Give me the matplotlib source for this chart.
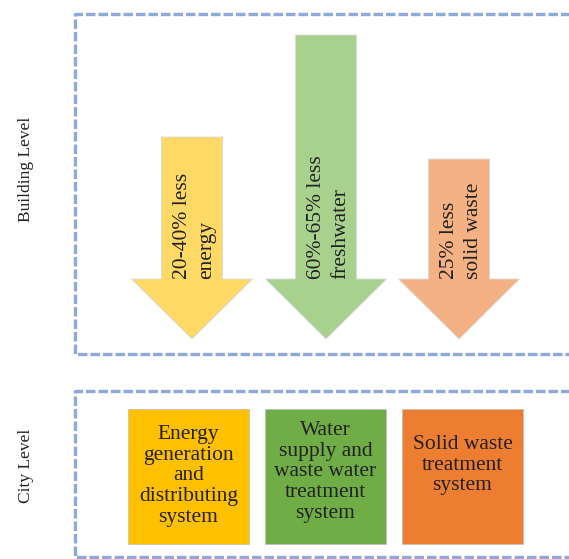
import matplotlib
matplotlib.use('Agg')
import matplotlib.pyplot as plt
from matplotlib.patches import Polygon, Rectangle

# building-level arrows
arrow_labels = ["20-40% less\nenergy", "60%-65% less\nfreshwater", "25% less\nsolid waste"]
arrow_colors = ["#FFD966", "#A9D18E", "#F4B183"]
arrow_centers = [192, 326, 459]
arrow_tops = [137, 35, 159]

# city-level boxes
box_labels = ["Energy\ngeneration\nand\ndistributing\nsystem",
              "Water\nsupply and\nwaste water\ntreatment\nsystem",
              "Solid waste\ntreatment\nsystem"]
box_colors = ["#FFC000", "#70AD47", "#ED7D31"]
box_lefts = [128, 265, 402]
box_text_y = [476, 472, 465]

serif = ['Liberation Serif', 'DejaVu Serif']
dash_color = '#8EA9DB'

fig = plt.figure(figsize=(5.69, 5.59), dpi=100, facecolor='white')
ax = fig.add_axes([0, 0, 1, 1])
ax.set_xlim(0, 569)
ax.set_ylim(559, 0)
ax.axis('off')

# dashed frames (open to the right edge)
for top, bottom in [(14, 354), (391, 557)]:
    ax.plot([580, 75, 75, 580], [top, top, bottom, bottom], color=dash_color,
            linewidth=2.4, linestyle=(0, (2.85, 0.9)), solid_capstyle='butt')

# side labels
ax.text(26, 169, "Building Level", rotation=90, ha='center', va='center',
        fontsize=12.5, family=serif, color='#222222')
ax.text(26, 466, "City Level", rotation=90, ha='center', va='center',
        fontsize=12.5, family=serif, color='#222222')

# arrows
shaft_half = 30.5
head_half = 60.5
head_y = 279
tip_y = 339
for label, color, cx, top in zip(arrow_labels, arrow_colors, arrow_centers, arrow_tops):
    pts = [(cx - shaft_half, top), (cx + shaft_half, top), (cx + shaft_half, head_y),
           (cx + head_half, head_y), (cx, tip_y), (cx - head_half, head_y),
           (cx - shaft_half, head_y)]
    ax.add_patch(Polygon(pts, closed=True, facecolor=color, edgecolor='#d9d9d9',
                         linewidth=0.6))
    ax.text(cx + 2.5, 279, label, rotation=90, rotation_mode='anchor', ha='left',
            va='center', fontsize=15.5, family=serif, color='#222222',
            linespacing=1.35)

# city boxes
box_w = 121
box_top = 409
box_bottom = 544
for label, color, x0, ty in zip(box_labels, box_colors, box_lefts, box_text_y):
    ax.add_patch(Rectangle((x0, box_top), box_w, box_bottom - box_top,
                           facecolor=color, edgecolor='#bfbfbf', linewidth=0.5))
    ax.text(x0 + box_w / 2, ty, label, ha='center', va='center', fontsize=15.5,
            family=serif, color='#222222', linespacing=1.12)

fig.savefig('out.png', dpi=100, facecolor='white')
